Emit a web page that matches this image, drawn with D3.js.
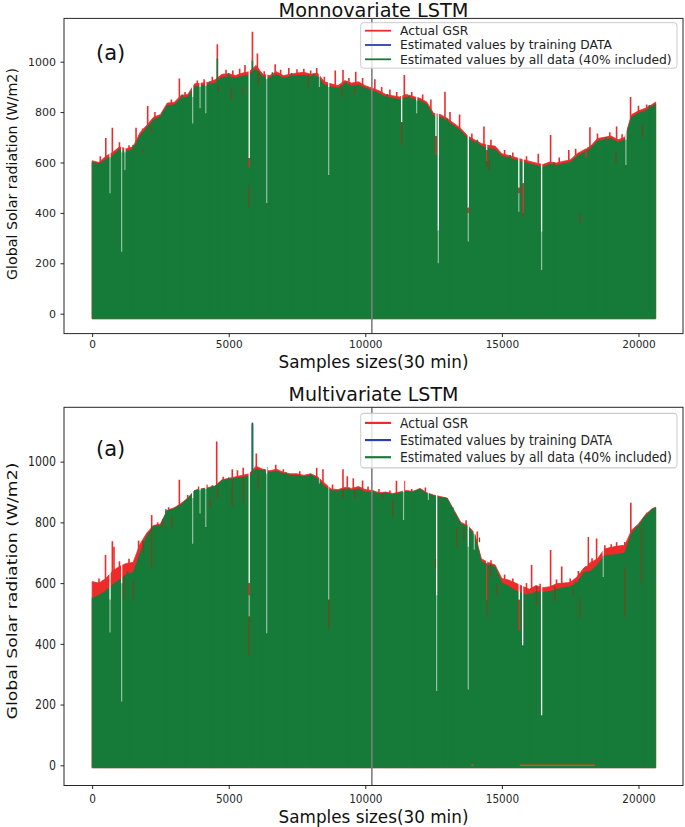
<!DOCTYPE html>
<html><head><meta charset="utf-8">
<script src="https://cdn.jsdelivr.net/npm/d3@7"></script>
<style>body{margin:0;background:#fff}svg{display:block;font-family:"DejaVu Sans",sans-serif}</style>
</head><body><svg id="c" width="685" height="827"></svg>
<script>
// ---------------- data ----------------
const samples = [0,250,500,750,1000,1250,1500,1750,2000,2250,2500,2750,3000,3250,3500,3750,4000,4250,4500,4750,5000,5250,5500,5750,6000,6250,6500,6750,7000,7250,7500,7750,8000,8250,8500,8750,9000,9250,9500,9750,10000,10250,10500,10750,11000,11250,11500,11750,12000,12250,12500,12750,13000,13250,13500,13750,14000,14250,14500,14750,15000,15250,15500,15750,16000,16250,16500,16750,17000,17250,17500,17750,18000,18250,18500,18750,19000,19250,19500,19750,20000,20250,20500,20630];

const topActual = [607,600,625,640,662,655,662,718,748,780,790,836,838,866,870,912,915,918,928,950,952,945,955,960,985,950,945,960,945,950,955,958,950,955,920,912,905,925,915,920,905,895,885,870,865,860,870,862,855,840,795,790,775,755,735,705,690,675,668,665,635,628,620,612,605,598,592,602,598,605,610,635,650,665,695,700,705,690,700,790,805,815,830,840];
const topEstimated = [600,595,612,628,652,645,652,705,738,770,782,826,828,855,860,900,905,908,915,938,940,935,942,948,970,940,935,948,935,940,945,946,940,942,908,900,895,912,905,908,895,885,874,860,855,850,858,852,845,830,785,780,765,745,725,695,680,665,656,652,625,618,610,602,595,588,582,592,588,595,600,625,640,655,685,690,695,680,690,780,795,805,822,832];
const topFloor = -20;

const topSpikeSamples = [300,500,740,1000,1350,1607,1850,2034,2300,2600,2900,3193,3400,3850,4100,4400,4583,4900,5150,5400,5595,5868,6050,6300,6700,6900,7200,7500,7750,8000,8220,8500,8900,9183,9400,9650,9900,10350,10600,10900,11150,11428,11700,12100,12400,12916,13100,13450,13900,14343,14600,15100,15400,15900,16332,16783,17100,17450,17700,18223,18500,18950,19199,19400,19711,20000,20300];
const topSpikeValues  = [625,697,738,680,668,738,735,824,800,805,850,933,880,925,930,940,1069,968,965,972,987,1119,1033,962,990,968,975,970,972,965,975,940,965,967,935,960,935,930,900,890,880,947,880,870,850,881,800,790,715,743,690,650,640,625,635,709,620,650,655,740,715,720,743,712,860,825,830];
const topGreenSpikeSamples = [1500,2600,3300,4300,4583,5000,5868,6600,7300,8100,9300,10800,11600,13000,14100,15300,16900,18300,18800,20400];
const topGreenSpikeValues  = [670,800,870,920,1013,955,1005,958,955,952,920,872,865,775,690,630,600,668,700,828];
const topBlueSpikeSamples = [];
const topBlueSpikeValues  = [];

const topDipSamples = [655,1080,1200,3680,3950,4160,5750,6390,8320,8660,11330,11880,12587,12672,13770,14441,15620,15783,16454,18080,19540];
const topDipTop     = [620,640,640,860,900,905,618,930,940,900,760,845,705,330,420,650,500,518,325,655,690];
const topDipEst     = [620,640,640,860,900,905,580,930,940,900,760,845,630,330,400,605,478,400,325,620,690];
const topDipLow     = [478,246,570,755,815,795,580,439,900,550,760,795,630,200,286,605,405,400,173,620,590];

const topBrownSamples = [1875,2180,4620,5100,5530,5750,6085,7916,9150,9620,11330,14441,14540,15783,17860,19180,20150];
const topBrownLow     = [640,720,880,850,870,420,910,900,860,870,670,580,570,385,360,600,700];
const topBrownHigh    = [655,745,905,895,900,510,960,950,895,900,760,605,610,400,395,640,750];

const bottomActual = [605,600,615,640,655,665,668,728,765,790,795,840,848,862,880,905,910,915,920,940,945,950,955,960,985,975,970,975,965,960,960,955,960,950,930,910,908,915,912,918,908,905,898,900,895,900,905,902,912,898,890,885,880,840,800,790,765,680,668,660,615,610,600,590,580,592,585,588,598,600,602,620,650,668,680,712,718,722,725,775,795,825,845,850];
const bottomEstimated = [550,560,575,595,610,628,635,697,755,788,790,838,845,858,878,905,910,912,918,938,942,945,948,952,975,970,965,968,960,955,955,950,955,945,918,905,903,910,906,910,900,900,895,897,892,897,902,900,910,895,888,882,878,835,795,785,760,670,660,655,600,590,575,565,560,572,570,572,580,585,588,600,635,640,660,690,692,695,700,765,790,820,843,848];
const bottomFloor = -8;

const bottomSpikeSamples = [250,490,740,800,1000,1350,1700,2180,2400,2800,3193,3500,3900,4200,4560,4800,5130,5320,5530,5800,6010,6400,6720,7000,7600,8220,8450,8800,9183,9340,9560,9900,10100,10500,10900,11140,11430,11700,12200,13343,13690,14100,14600,15100,15400,15900,16088,16400,16783,17000,17190,17500,17800,18162,18300,18467,18770,19000,19199,19500,19720,20110,20300];
const bottomSpikeValues  = [615,693,738,720,672,680,740,824,800,850,940,890,918,925,1066,950,975,972,980,965,1027,982,990,975,968,980,975,925,975,952,945,938,918,910,905,937,937,910,915,818,807,770,675,628,615,600,660,598,709,612,655,615,640,752,682,747,725,728,735,735,865,800,832];
const bottomGreenSpikeSamples = [1300,2700,3400,4400,5000,5868,6300,7100,8000,9400,10300,11800,12900,13200,16000,17700,18900,20200];
const bottomGreenSpikeValues  = [640,843,868,922,948,1122,975,965,960,915,905,905,882,850,568,605,695,818];
const bottomBlueSpikeSamples = [5868];
const bottomBlueSpikeValues  = [1128];

const bottomDipSamples = [655,1080,3680,3950,4160,5750,6390,8320,8660,11400,12310,12611,13770,13990,14441,15635,15760,16454,18100,18710];
const bottomDipTop     = [545,600,880,905,910,600,960,950,918,900,895,560,720,760,665,545,395,165,655,690];
const bottomDipEst     = [545,600,880,905,910,560,960,950,918,900,895,560,720,760,545,445,395,165,640,690];
const bottomDipLow     = [437,210,730,829,785,490,435,928,545,808,874,245,250,710,545,445,395,165,640,620];

const bottomBrownSamples = [1170,1510,1870,2180,2580,2910,4330,4590,5130,5540,5750,6085,8660,9183,9620,10660,11000,12570,13343,13610,14180,14441,14590,14807,16270,16940,17613,17857,19500,20114];
const bottomBrownLow     = [545,545,700,650,780,780,850,880,852,865,360,910,450,880,880,880,818,650,720,740,735,490,620,560,525,540,560,485,490,600];
const bottomBrownHigh    = [625,610,740,790,810,820,880,915,940,950,490,960,545,910,905,895,874,680,785,780,750,545,665,600,590,590,580,550,650,780];

const bottomRedFloorStart = [13880,15650];
const bottomRedFloorEnd   = [13960,18400];

const splitSample = 10240;
const xTicks = [0,5000,10000,15000,20000];
const yTicks = [0,200,400,600,800,1000];
const legendLabels = ["Actual GSR","Estimated values by training DATA","Estimated values by all data (40% included)"];
const titles = ["Monnovariate LSTM","Multivariate LSTM"];
const xLabel = "Samples sizes(30 min)";
const yLabel = "Global Solar radiation (W/m2)";
const panelTag = "(a)";

// ---------------- drawing ----------------
const RED="#ee2b2b", BLUE="#2b3fae", GREEN="#167a38", BROWN="#6e4a1e", GRAY="#7f7f7f", INK="#262626";
const svg = d3.select("#c");
const x = d3.scaleLinear().domain([-1030,21630]).range([64,683]);

const panels = [
 {id:0, top:18.4, bottom:333.6, yDomain:[-79,1171.8], sy:1, titleY:16.5, tickLabY:344, xLabY:362, yLabY:174, yLabLen:212, tagY:60, legTop:22.7,
  actual:topActual, est:topEstimated, floor:topFloor,
  spS:topSpikeSamples, spV:topSpikeValues, gS:topGreenSpikeSamples, gV:topGreenSpikeValues, bS:topBlueSpikeSamples, bV:topBlueSpikeValues,
  dS:topDipSamples, dT:topDipTop, dE:topDipEst, dL:topDipLow, brS:topBrownSamples, brL:topBrownLow, brH:topBrownHigh, rfS:[], rfE:[]},
 {id:1, top:407.3, bottom:785.5, yDomain:[-66.5,1179], sy:1.2, titleY:400.5, tickLabY:798.5, xLabY:817, yLabY:591, yLabLen:214, tagY:456, legTop:413.3,
  actual:bottomActual, est:bottomEstimated, floor:bottomFloor,
  spS:bottomSpikeSamples, spV:bottomSpikeValues, gS:bottomGreenSpikeSamples, gV:bottomGreenSpikeValues, bS:bottomBlueSpikeSamples, bV:bottomBlueSpikeValues,
  dS:bottomDipSamples, dT:bottomDipTop, dE:bottomDipEst, dL:bottomDipLow, brS:bottomBrownSamples, brL:bottomBrownLow, brH:bottomBrownHigh, rfS:bottomRedFloorStart, rfE:bottomRedFloorEnd}
];

function fit(t, w){ const L=t.node().getComputedTextLength(); t.attr("font-size", parseFloat(t.attr("font-size"))*w/L); return t; }

const probe = svg.append("text").attr("font-size",10).text(legendLabels[2]);
const legFont = 10*272/probe.node().getComputedTextLength(); probe.remove();

panels.forEach(p=>{
  const y = d3.scaleLinear().domain(p.yDomain).range([p.bottom,p.top]);
  const g = svg.append("g");
  const clipId = "clip"+p.id;
  svg.append("clipPath").attr("id",clipId).append("rect")
    .attr("x",x.range()[0]).attr("y",p.top).attr("width",x.range()[1]-x.range()[0]).attr("height",p.bottom-p.top);
  const d = g.append("g").attr("clip-path",`url(#${clipId})`);

  const idx = d3.range(samples.length);
  const areaA = d3.area().x(i=>x(samples[i])).y0(y(p.floor)).y1(i=>y(p.actual[i]));
  const areaE = d3.area().x(i=>x(samples[i])).y0(y(p.floor)).y1(i=>y(p.est[i]));

  const vline = (sel, xs, y1s, y2s, color, w, op=1)=> sel.selectAll(null).data(xs).join("line")
     .attr("x1",(s)=>x(s)).attr("x2",(s)=>x(s))
     .attr("y1",(s,i)=>y1s(i)).attr("y2",(s,i)=>y2s(i))
     .attr("stroke",color).attr("stroke-width",w).attr("stroke-opacity",op);

  d.append("path").datum(idx).attr("d",areaA).attr("fill",RED).attr("stroke",RED).attr("stroke-width",0.8);
  vline(d, p.spS, i=>y(0), i=>y(p.spV[i]), RED, 1.6);
  vline(d, p.bS, i=>y(0), i=>y(p.bV[i]), BLUE, 1.7);
  d.append("path").datum(idx).attr("d",areaE).attr("fill",GREEN).attr("stroke",GREEN).attr("stroke-width",0.8);
  vline(d, p.gS, i=>y(0), i=>y(p.gV[i]), GREEN, 1.6);
  vline(d, p.dS, i=>p.top, i=>y(p.dT[i]), "#ffffff", 1.3);
  vline(d, p.dS, i=>y(p.dT[i]), i=>y(p.dE[i]), RED, 1.3);
  vline(d, p.dS, i=>y(p.dE[i]), i=>y(p.dL[i]), "#ffffff", 1.2, 0.55);
  vline(d, p.brS, i=>y(p.brL[i]), i=>y(p.brH[i]), BROWN, 1.3);
  d.selectAll(null).data(p.rfS).join("line")
    .attr("x1",s=>x(s)).attr("x2",(s,i)=>x(p.rfE[i])).attr("y1",y(0)).attr("y2",y(0))
    .attr("stroke","#e0452a").attr("stroke-width",1.4);
  d.append("line").attr("x1",x(splitSample)).attr("x2",x(splitSample)).attr("y1",p.top).attr("y2",p.bottom)
    .attr("stroke",GRAY).attr("stroke-width",1.6);

  g.append("rect").attr("x",x.range()[0]).attr("y",p.top).attr("width",x.range()[1]-x.range()[0]).attr("height",p.bottom-p.top)
    .attr("fill","none").attr("stroke",INK).attr("stroke-width",1);

  const ax = g.append("g").attr("transform",`translate(0,${p.bottom})`)
    .call(d3.axisBottom(x).tickValues(xTicks).tickFormat(d3.format("d")).tickSize(3.5).tickPadding(3));
  ax.select(".domain").remove();
  ax.selectAll("line").attr("stroke",INK);
  ax.selectAll("text").attr("font-size",10.5).attr("fill",INK).attr("font-family","DejaVu Sans")
    .attr("y",null).attr("dy","0.35em")
    .attr("transform",`translate(0,${p.tickLabY-p.bottom}) scale(1,${p.sy})`);
  const ay = g.append("g").attr("transform",`translate(${x.range()[0]},0)`)
    .call(d3.axisLeft(y).tickValues(yTicks).tickFormat(d3.format("d")).tickSize(3.5).tickPadding(4.5));
  ay.select(".domain").remove();
  ay.selectAll("line").attr("stroke",INK);
  ay.selectAll("text").attr("font-size",11).attr("fill",INK).attr("font-family","DejaVu Sans")
    .attr("transform",`scale(1,${p.sy})`);

  const t = g.append("text").attr("x",373.5).attr("y",p.titleY).attr("text-anchor","middle")
    .attr("font-size",17).attr("fill","#111").text(titles[p.id]);
  fit(t, p.id===0?190:170);
  const xl = g.append("text").attr("text-anchor","middle").attr("dy","0.35em")
    .attr("transform",`translate(373.5,${p.xLabY})`)
    .attr("font-size",15).attr("fill","#111").text(xLabel);
  fit(xl,190);
  const yl = g.append("text").attr("text-anchor","middle").attr("dy","0.35em")
    .attr("transform",`translate(12,${p.yLabY}) scale(1,${p.sy}) rotate(-90)`)
    .attr("font-size",14).attr("fill","#111").text(yLabel);
  fit(yl,p.yLabLen);
  g.append("text").attr("x",96).attr("y",p.tagY).attr("font-size",21).attr("fill","#111").text(panelTag);

  const lg = g.append("g").attr("transform",`translate(0,${p.legTop}) scale(1,${p.sy})`);
  lg.append("rect").attr("x",360.7).attr("y",0).attr("width",316.3).attr("height",45.5).attr("rx",3)
    .attr("fill","#fff").attr("fill-opacity",0.8).attr("stroke","#cccccc").attr("stroke-width",1);
  const cols=[RED,BLUE,GREEN];
  legendLabels.forEach((lab,i)=>{
    const yy = 8+i*14.3;
    lg.append("line").attr("x1",365).attr("x2",391).attr("y1",yy).attr("y2",yy).attr("stroke",cols[i]).attr("stroke-width",1.8);
    lg.append("text").attr("x",400).attr("y",yy).attr("dy","0.35em").attr("font-size",legFont).attr("fill","#222").text(lab);
  });
});
</script></body></html>
